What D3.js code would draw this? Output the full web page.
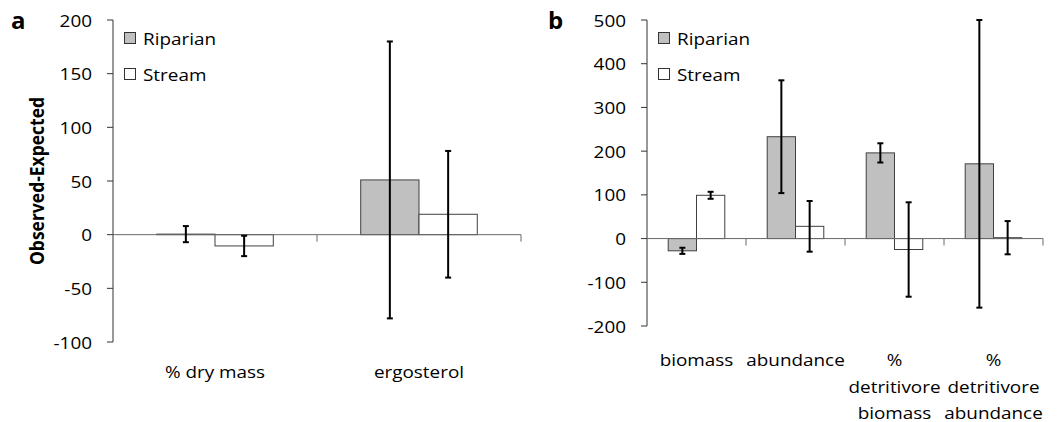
<!DOCTYPE html>
<html>
<head>
<meta charset="utf-8">
<script src="https://cdn.jsdelivr.net/npm/d3@7.9.0/dist/d3.min.js"></script>
<style>
  body { margin: 0; background: #fff; }
  svg { display: block; }
  text { font-family: "Open Sans", "DejaVu Sans", sans-serif; fill: #000; }
</style>
</head>
<body>
<div id="chart"></div>
<script>
// Panel a
const catsA = ["% dry mass", "ergosterol"];
const riparianA = [0.5, 51];
const riparianErrA = [7.5, 129];
const streamA = [-10.5, 19];
const streamErrA = [9.5, 59];
const ticksA = [-100, -50, 0, 50, 100, 150, 200];

// Panel b
const catsB = [["biomass"], ["abundance"], ["%", "detritivore", "biomass"], ["%", "detritivore", "abundance"]];
const riparianB = [-28, 233, 196, 171];
const riparianErrB = [7, 129, 22, 329];
const streamB = [99, 28, -25, 2];
const streamErrB = [8, 58, 108, 38];
const ticksB = [-200, -100, 0, 100, 200, 300, 400, 500];

const seriesNames = ["Riparian", "Stream"];
const seriesFill = ["#c0c0c0", "#ffffff"];

const width = 1058;
const height = 422;
const fontSize = 15.5;
const stretch = 1.22; // text in the reference is a little wide

const svg = d3.select("#chart")
  .append("svg")
  .attr("width", width)
  .attr("height", height);

function wideText(g, x, y, str, anchor) {
  return g.append("text")
    .attr("transform", `translate(${x},${y}) scale(${stretch},1)`)
    .attr("text-anchor", anchor)
    .style("font-size", fontSize + "px")
    .text(str);
}

function drawPanel(opts) {
  const g = svg.append("g");
  const names = opts.cats.map((c, i) => "c" + i);

  const y = d3.scaleLinear()
    .domain(opts.domain)
    .range([opts.bottom, opts.top]);

  const x = d3.scaleBand()
    .domain(names)
    .range([opts.left, opts.right])
    .padding(0);

  const xs = d3.scaleBand()
    .domain(seriesNames)
    .range([0, x.bandwidth()])
    .paddingInner(0)
    .paddingOuter(0.75);

  const rows = [];
  names.forEach((n, i) => {
    rows.push({ cat: n, s: "Riparian", v: opts.riparian[i], e: opts.riparianErr[i], fill: seriesFill[0] });
    rows.push({ cat: n, s: "Stream", v: opts.stream[i], e: opts.streamErr[i], fill: seriesFill[1] });
  });

  // bars
  g.append("g")
    .selectAll("rect")
    .data(rows)
    .join("rect")
    .attr("x", d => x(d.cat) + xs(d.s))
    .attr("width", xs.bandwidth())
    .attr("y", d => Math.min(y(d.v), y(0)))
    .attr("height", d => Math.abs(y(d.v) - y(0)))
    .attr("fill", d => d.fill)
    .attr("stroke", "#404040")
    .attr("stroke-width", 1);

  // y axis
  g.append("line")
    .attr("x1", opts.left).attr("x2", opts.left)
    .attr("y1", y(opts.domain[0])).attr("y2", y(opts.domain[1]))
    .attr("stroke", "#333").attr("stroke-width", 1);

  g.append("g")
    .selectAll("line")
    .data(opts.ticks)
    .join("line")
    .attr("x1", opts.left - 6).attr("x2", opts.left)
    .attr("y1", d => y(d)).attr("y2", d => y(d))
    .attr("stroke", "#333").attr("stroke-width", 1);

  opts.ticks.forEach(t => wideText(g, opts.left - 21, y(t) + 6.5, String(t), "end"));

  // zero line with category ticks
  g.append("line")
    .attr("x1", opts.left).attr("x2", opts.right)
    .attr("y1", y(0)).attr("y2", y(0))
    .attr("stroke", "#6a6a6a").attr("stroke-width", 1);

  g.append("g")
    .selectAll("line")
    .data(names.slice(1).map(n => x(n)).concat([opts.right]))
    .join("line")
    .attr("x1", d => d).attr("x2", d => d)
    .attr("y1", y(0)).attr("y2", y(0) + 7)
    .attr("stroke", "#6a6a6a").attr("stroke-width", 1);

  // error bars
  const eb = g.append("g")
    .selectAll("g")
    .data(rows)
    .join("g")
    .attr("stroke", "#000")
    .attr("stroke-width", 2);

  const cx = d => x(d.cat) + xs(d.s) + xs.bandwidth() / 2;
  eb.append("line")
    .attr("x1", cx).attr("x2", cx)
    .attr("y1", d => y(d.v + d.e)).attr("y2", d => y(d.v - d.e));
  eb.append("line")
    .attr("x1", d => cx(d) - 3).attr("x2", d => cx(d) + 3)
    .attr("y1", d => y(d.v + d.e)).attr("y2", d => y(d.v + d.e));
  eb.append("line")
    .attr("x1", d => cx(d) - 3).attr("x2", d => cx(d) + 3)
    .attr("y1", d => y(d.v - d.e)).attr("y2", d => y(d.v - d.e));

  // category labels
  names.forEach((n, i) => {
    const lines = Array.isArray(opts.cats[i]) ? opts.cats[i] : [opts.cats[i]];
    lines.forEach((ln, j) => {
      wideText(g, x(n) + x.bandwidth() / 2, opts.labelY + j * 26.5, ln, "middle");
    });
  });

  // legend
  seriesNames.forEach((s, i) => {
    const ly = opts.top + 12 + i * 36;
    g.append("rect")
      .attr("x", opts.left + 11.5)
      .attr("y", ly + 0.5)
      .attr("width", 11)
      .attr("height", 11)
      .attr("fill", seriesFill[i])
      .attr("stroke", "#333")
      .attr("stroke-width", 1);
    wideText(g, opts.left + 30, ly + 12.5, s, "start");
  });

  // panel letter
  g.append("text")
    .attr("x", opts.letterX)
    .attr("y", 29)
    .style("font-size", "24px")
    .style("font-weight", "bold")
    .text(opts.letter);

  return y;
}

drawPanel({
  cats: catsA, riparian: riparianA, riparianErr: riparianErrA,
  stream: streamA, streamErr: streamErrA, ticks: ticksA,
  domain: [-100, 200], top: 20, bottom: 342, left: 113, right: 521,
  labelY: 378, letter: "a", letterX: 11
});

drawPanel({
  cats: catsB, riparian: riparianB, riparianErr: riparianErrB,
  stream: streamB, streamErr: streamErrB, ticks: ticksB,
  domain: [-200, 500], top: 20, bottom: 326, left: 647, right: 1043,
  labelY: 366, letter: "b", letterX: 548
});

// y axis title (panel a)
svg.append("text")
  .attr("transform", "translate(44,181) rotate(-90) scale(1,1.15)")
  .attr("text-anchor", "middle")
  .style("font-size", "17.5px")
  .style("font-weight", "bold")
  .text("Observed-Expected");
</script>
</body>
</html>
